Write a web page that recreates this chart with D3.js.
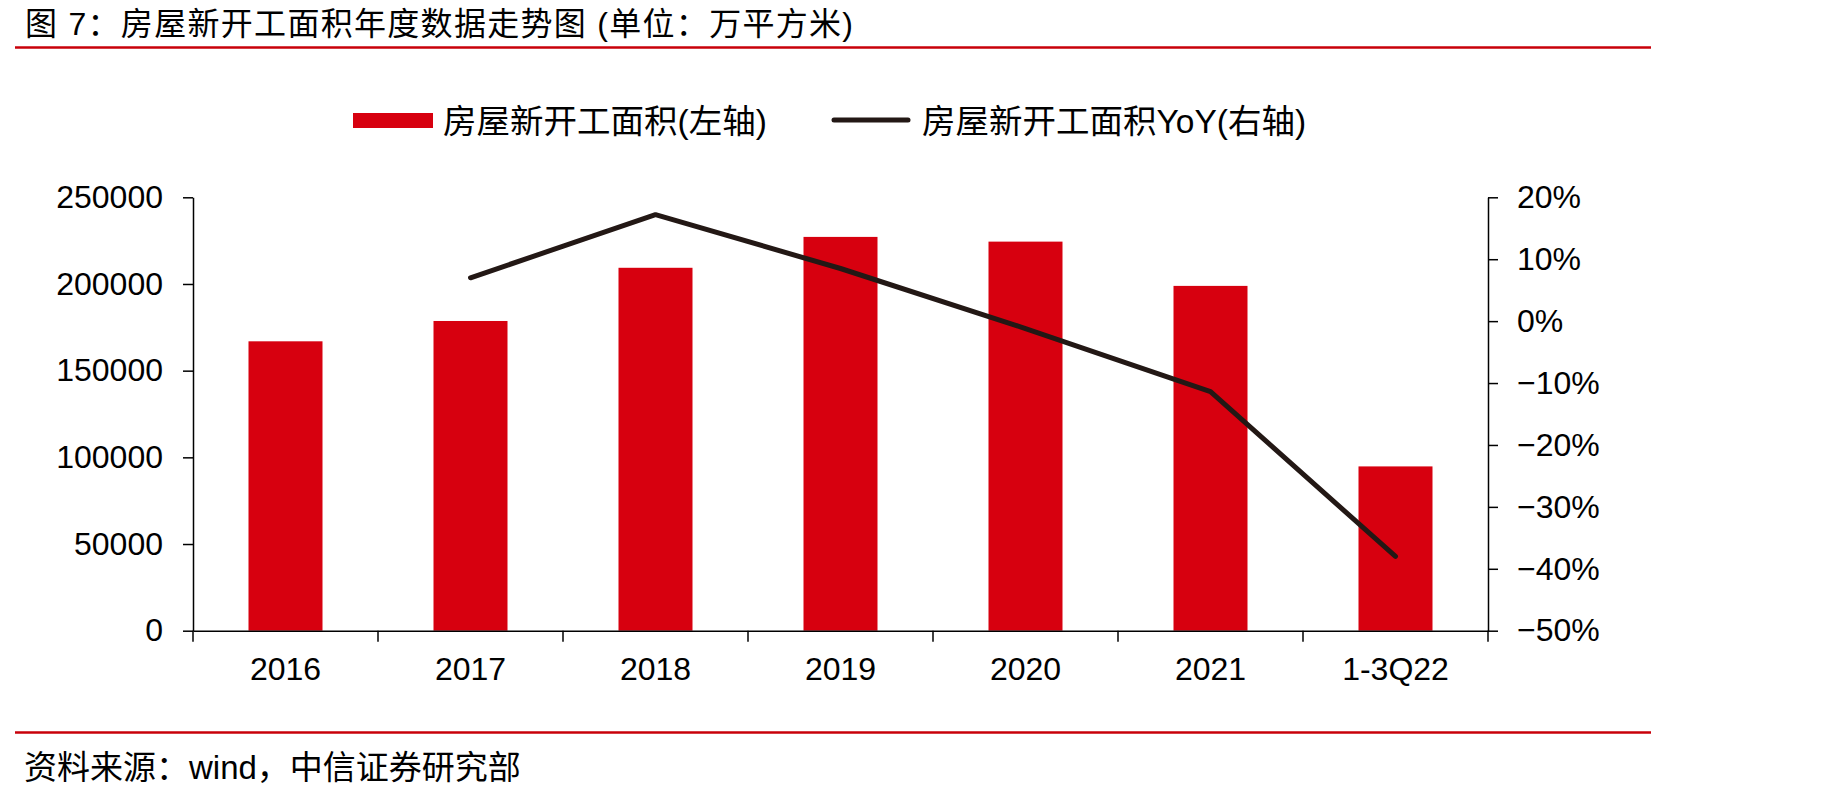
<!DOCTYPE html>
<html>
<head>
<meta charset="utf-8">
<script src="https://cdn.jsdelivr.net/npm/d3@7/dist/d3.min.js"></script>
<style>
  body { margin: 0; background: #fff; }
  text { font-family: "Liberation Sans", Arial, "Noto Sans CJK SC", sans-serif; fill: #000; }
</style>
</head>
<body>
<script>
// 数据
var categories = ["2016", "2017", "2018", "2019", "2020", "2021", "1-3Q22"];
var area = [166928, 178654, 209342, 227154, 224433, 198895, 94767];   // 万平方米
var yoy = [null, 0.070, 0.172, 0.085, -0.012, -0.114, -0.380];
var leftTicks = [0, 50000, 100000, 150000, 200000, 250000];
var rightTicks = [-0.5, -0.4, -0.3, -0.2, -0.1, 0, 0.1, 0.2];

var width = 1830, height = 797;
var plotLeft = 193, plotRight = 1488, plotTop = 197.3, plotBottom = 630.7;
var barColor = "#d7000f", lineColor = "#231815", ruleColor = "#c8000a";

var svg = d3.select("body").append("svg")
    .attr("width", width)
    .attr("height", height);

// 标题
svg.append("text")
    .attr("x", 25).attr("y", 24)
    .attr("dominant-baseline", "central")
    .attr("font-size", "32px")
    .attr("textLength", 828)
    .attr("lengthAdjust", "spacing")
    .text("图 7：房屋新开工面积年度数据走势图 (单位：万平方米)");

svg.append("line")
    .attr("x1", 15).attr("x2", 1651)
    .attr("y1", 47.5).attr("y2", 47.5)
    .attr("stroke", ruleColor).attr("stroke-width", 2.5);

// 比例尺
var x = d3.scaleBand().domain(categories).range([plotLeft, plotRight]).padding(0);
var yL = d3.scaleLinear().domain([0, 250000]).range([plotBottom, plotTop]);
var yR = d3.scaleLinear().domain([-0.5, 0.2]).range([plotBottom, plotTop]);
var barW = x.bandwidth() * 0.4;

// 柱子
svg.append("g").selectAll("rect")
    .data(area)
    .enter()
    .append("rect")
    .attr("x", function(d, i) { return x(categories[i]) + (x.bandwidth() - barW) / 2; })
    .attr("y", function(d) { return yL(d); })
    .attr("width", barW)
    .attr("height", function(d) { return plotBottom - yL(d); })
    .attr("fill", barColor);

// 折线
var lineData = categories.map(function(c, i) { return { cat: c, v: yoy[i] }; });
var lineFn = d3.line()
    .defined(function(d) { return d.v !== null; })
    .x(function(d) { return x(d.cat) + x.bandwidth() / 2; })
    .y(function(d) { return yR(d.v); });

svg.append("path")
    .datum(lineData)
    .attr("d", lineFn)
    .attr("fill", "none")
    .attr("stroke", lineColor)
    .attr("stroke-width", 5)
    .attr("stroke-linejoin", "round")
    .attr("stroke-linecap", "round");

// 左轴
var gL = svg.append("g")
    .attr("transform", "translate(" + plotLeft + ",0)")
    .call(d3.axisLeft(yL).tickValues(leftTicks).tickFormat(d3.format("d")).tickSize(10).tickPadding(20).tickSizeOuter(0));
// 右轴
var gR = svg.append("g")
    .attr("transform", "translate(" + plotRight + ",0)")
    .call(d3.axisRight(yR).tickValues(rightTicks).tickFormat(d3.format(".0%")).tickSize(10).tickPadding(19).tickSizeOuter(0));
// 底轴
var gB = svg.append("g")
    .attr("transform", "translate(0," + plotBottom + ")")
    .call(d3.axisBottom(x).tickSize(0).tickPadding(27).tickSizeOuter(0));

gB.selectAll(".tick text").attr("dy", "0.71em");
gB.selectAll("line.cat-tick")
    .data(d3.range(categories.length + 1))
    .enter()
    .append("line")
    .attr("class", "cat-tick")
    .attr("x1", function(i) { return plotLeft + i * x.step(); })
    .attr("x2", function(i) { return plotLeft + i * x.step(); })
    .attr("y1", 0).attr("y2", 11)
    .attr("stroke", "#000").attr("stroke-width", 1.5);

[gL, gR, gB].forEach(function(g) {
    g.selectAll(".domain").attr("stroke", "#000").attr("stroke-width", 1.5);
    g.selectAll(".tick line").attr("stroke", "#000").attr("stroke-width", 1.5);
    g.selectAll(".tick text")
        .attr("font-size", "32px")
        .attr("font-family", "'Liberation Sans', Arial, sans-serif")
        .attr("fill", "#000");
});

// 图例
var legend = svg.append("g");
legend.append("rect")
    .attr("x", 353).attr("y", 113)
    .attr("width", 80).attr("height", 15)
    .attr("fill", barColor);
legend.append("text")
    .attr("x", 443).attr("y", 121)
    .attr("dominant-baseline", "central")
    .attr("font-size", "33.5px")
    .text("房屋新开工面积(左轴)");
legend.append("line")
    .attr("x1", 834).attr("x2", 908)
    .attr("y1", 120).attr("y2", 120)
    .attr("stroke", lineColor).attr("stroke-width", 5)
    .attr("stroke-linecap", "round");
legend.append("text")
    .attr("x", 922).attr("y", 121)
    .attr("dominant-baseline", "central")
    .attr("font-size", "33.5px")
    .text("房屋新开工面积YoY(右轴)");

// 底部来源
svg.append("line")
    .attr("x1", 15).attr("x2", 1651)
    .attr("y1", 732.5).attr("y2", 732.5)
    .attr("stroke", ruleColor).attr("stroke-width", 2.5);
svg.append("text")
    .attr("x", 24).attr("y", 767)
    .attr("dominant-baseline", "central")
    .attr("font-size", "33px")
    .text("资料来源：wind，中信证券研究部");
</script>
</body>
</html>
